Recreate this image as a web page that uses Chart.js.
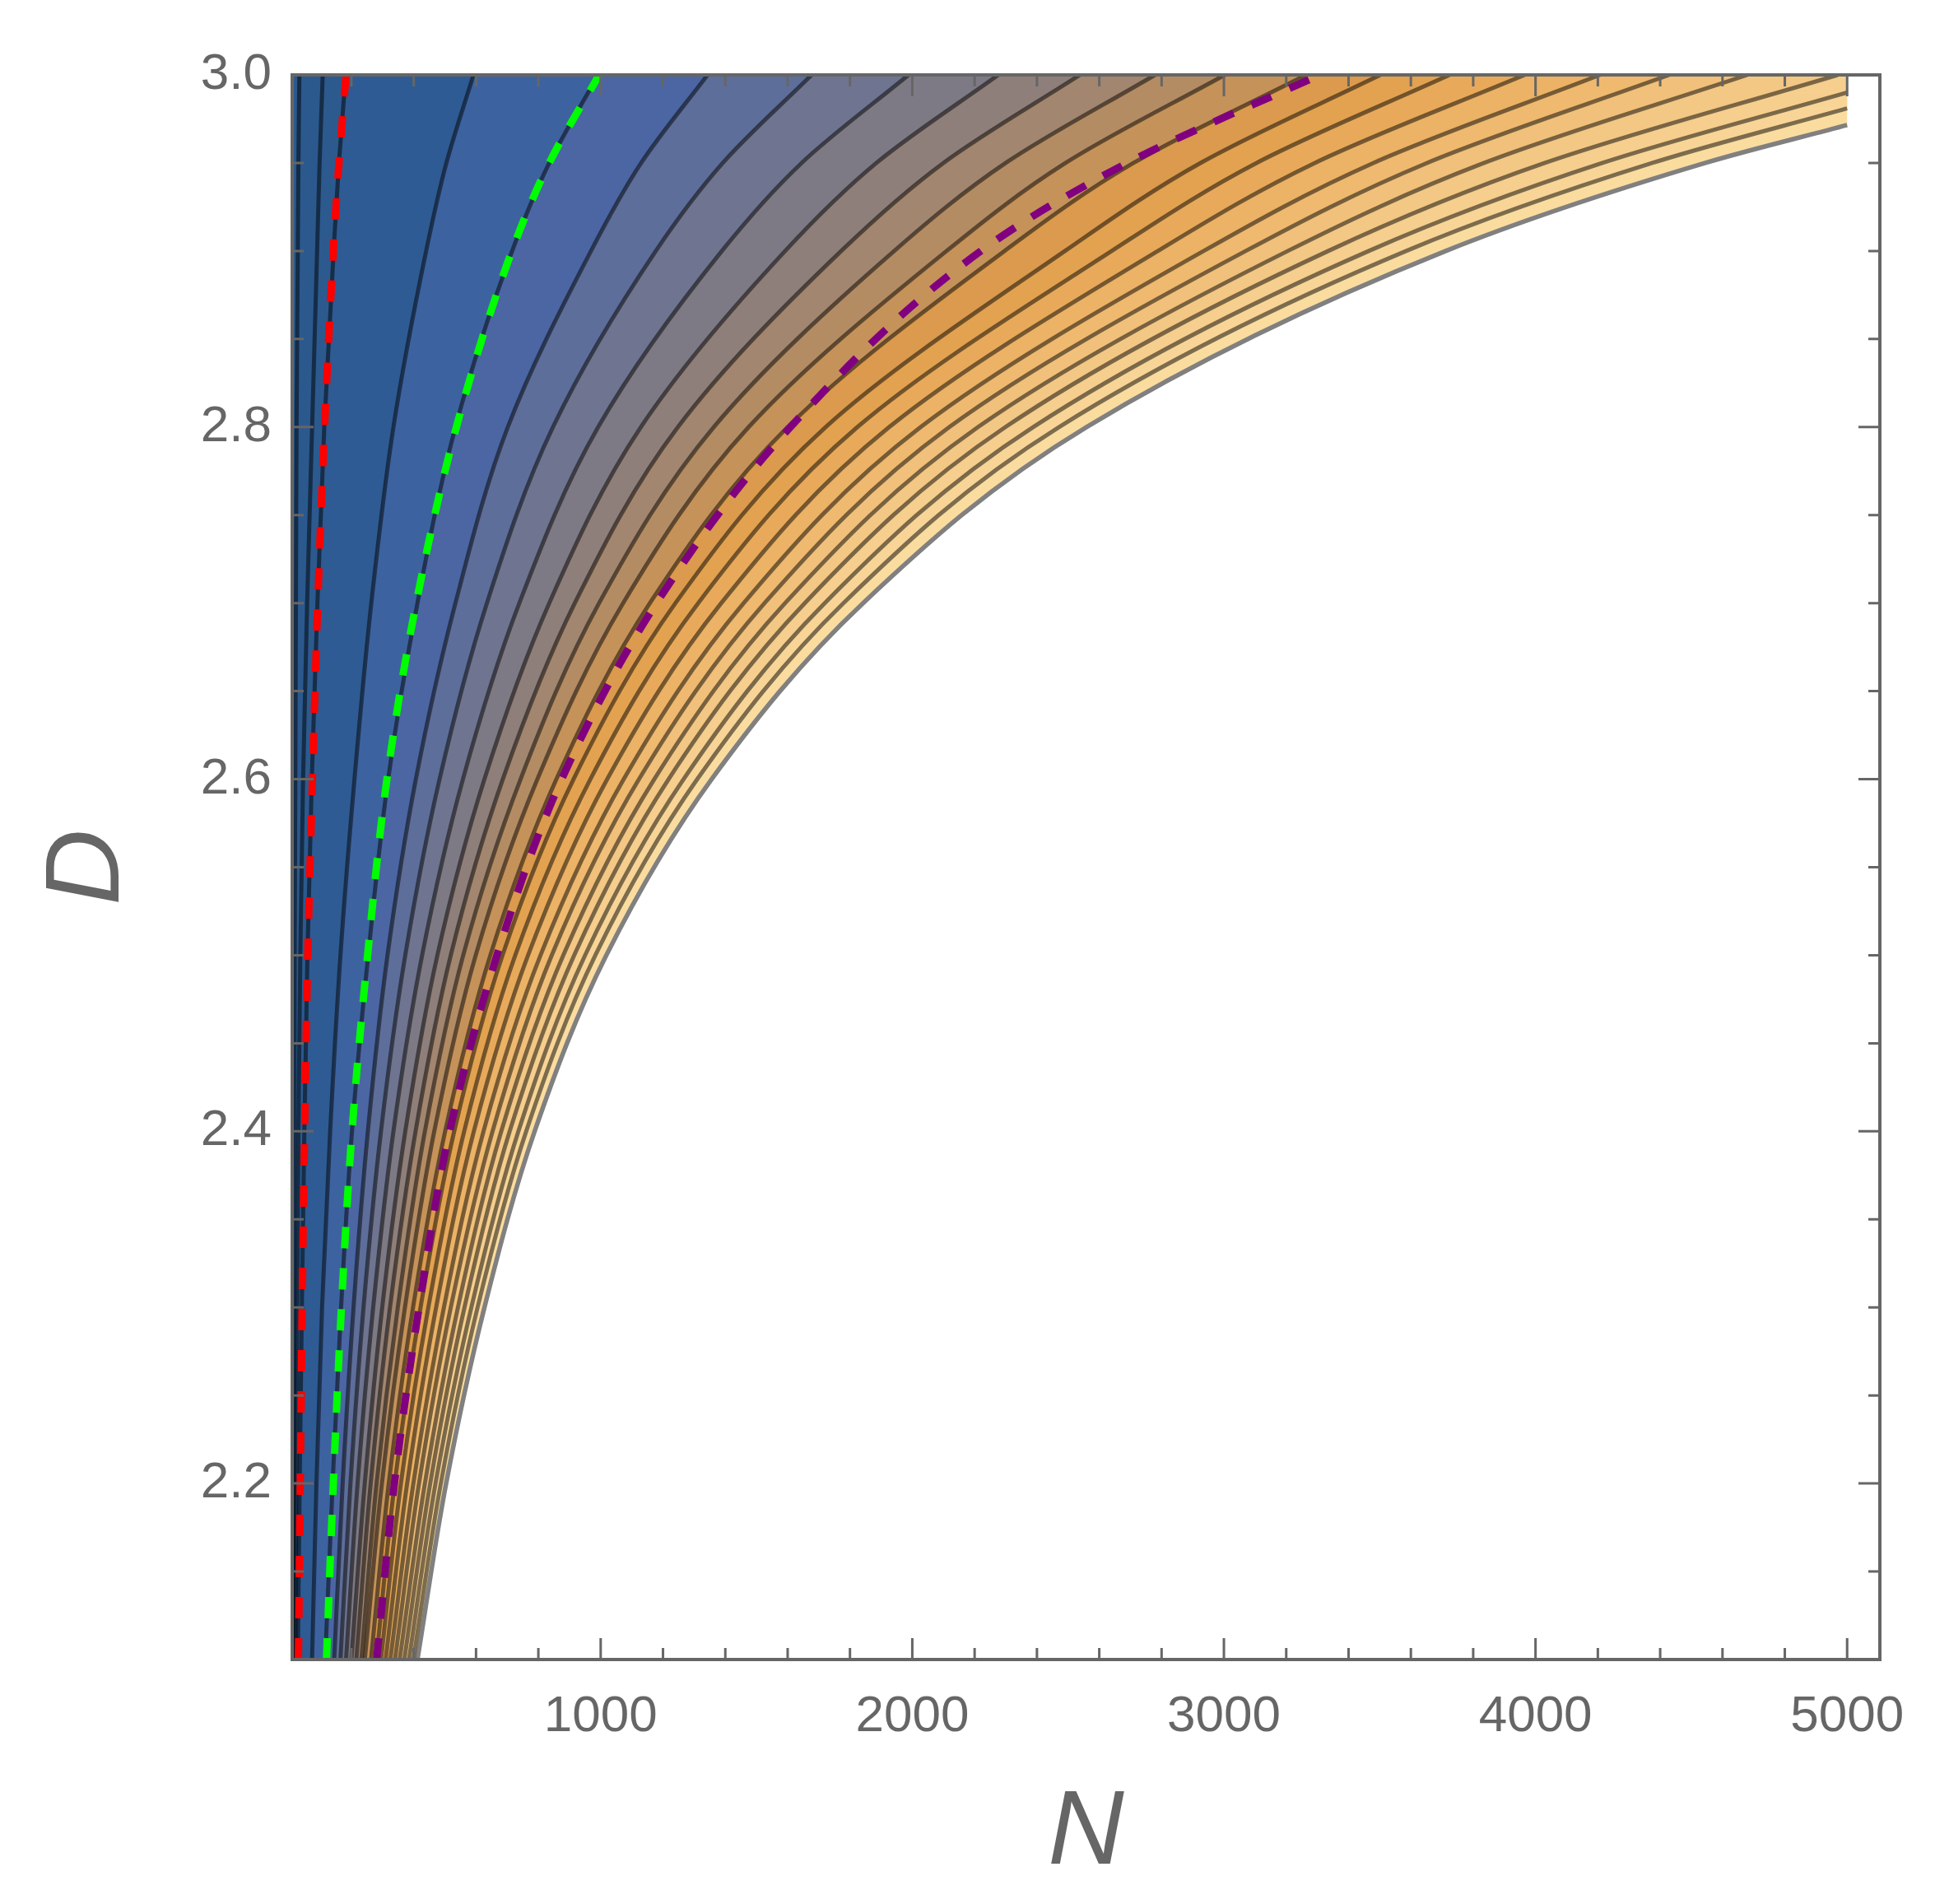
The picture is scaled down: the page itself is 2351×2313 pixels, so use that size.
<!DOCTYPE html>
<html>
<head>
<meta charset="utf-8">
<script src="https://cdn.jsdelivr.net/npm/chart.js@4.4.0/dist/chart.umd.min.js"></script>
<style>
  html, body { margin: 0; padding: 0; background: #fff; }
  canvas { display: block; }
</style>
</head>
<body>
<canvas id="plot" width="2351" height="2313"></canvas>
<script>
/* ==========================
   values
   ========================== */
// D levels where every contour was read
const dLevels = [2.1, 2.2, 2.3, 2.4, 2.5, 2.6, 2.7, 2.8, 2.9, 2.95, 3.0];
// last contours leave through the right side (N = 5000)
const dEdge20 = [2.1, 2.2, 2.3, 2.4, 2.5, 2.6, 2.7, 2.8, 2.9, 2.95, 2.990];
const dEdge21 = [2.1, 2.2, 2.3, 2.4, 2.5, 2.6, 2.7, 2.8, 2.9, 2.95, 2.981];
const dEdgeB  = [2.1, 2.2, 2.3, 2.4, 2.5, 2.6, 2.7, 2.8, 2.9, 2.95, 2.9715];

// N of each contour line, left to right
const c00 = [14, 15, 16, 17, 18, 20, 22, 24, 28, 30, 33];
const c01 = [20, 23, 26, 30, 36, 45, 58, 74, 90, 98, 108];
const c02 = [28, 34, 41, 49, 59, 73, 91, 113, 143, 160, 182];
const c03 = [74, 88, 106, 132, 165, 210, 264, 335, 440, 505, 592];
const c04 = [116, 140, 167, 202, 254, 318, 412, 534, 716, 835, 992];
const c05 = [145, 172, 207, 253, 316, 407, 534, 702, 969, 1130, 1343];
const c06 = [165, 197, 239, 295, 373, 483, 635, 847, 1177, 1392, 1677];
const c07 = [183, 220, 270, 335, 427, 558, 739, 992, 1389, 1645, 1988];
const c08 = [200, 243, 299, 373, 476, 627, 835, 1129, 1592, 1885, 2276];
const c09 = [216, 262, 324, 406, 519, 686, 917, 1248, 1772, 2100, 2538];
const c10 = [232, 281, 349, 436, 559, 743, 995, 1363, 1942, 2300, 2779];
const c11 = [243, 298, 372, 466, 599, 797, 1072, 1475, 2110, 2492, 3003];
const c12 = [263, 320, 398, 501, 646, 858, 1158, 1600, 2296, 2710, 3264];
const c13 = [280, 339, 422, 530, 685, 913, 1240, 1722, 2490, 2925, 3502];
const c14 = [295, 359, 447, 562, 726, 967, 1313, 1824, 2640, 3105, 3724];
const c15 = [310, 379, 472, 593, 767, 1021, 1387, 1926, 2788, 3292, 3965];
const c16 = [325, 399, 497, 624, 807, 1074, 1459, 2027, 2935, 3480, 4207];
const c17 = [340, 417, 519, 653, 843, 1123, 1526, 2119, 3070, 3652, 4429];
const c18 = [355, 436, 542, 681, 880, 1172, 1592, 2211, 3205, 3835, 4680];
const c19 = [370, 453, 563, 708, 915, 1218, 1655, 2299, 3335, 4030, 4970];
const c20 = [385, 470, 585, 736, 950, 1266, 1719, 2388, 3465, 4215, 5000];
const c21 = [399, 487, 605, 761, 983, 1310, 1779, 2471, 3585, 4375, 5000];
const cB  = [412, 504, 627, 788, 1018, 1356, 1842, 2559, 3712, 4545, 5000]; // outer edge

// dashed curves
const redN    = [30, 36, 42, 50, 60, 75, 92, 114, 142, 160, 183];
const greenN  = [120, 142, 168, 202, 252, 314, 408, 537, 715, 835, 995];
const purpleN = [281, 338, 417, 515, 667, 875, 1179, 1609, 2220, 2690, 3307];

// axes
const xMajorTicks = [1000, 2000, 3000, 4000, 5000];
const xMinorTicks = [200, 400, 600, 800, 1200, 1400, 1600, 1800, 2200, 2400, 2600, 2800,
                     3200, 3400, 3600, 3800, 4200, 4400, 4600, 4800];
const yMajorTicks = [2.2, 2.4, 2.6, 2.8, 3.0];
const yMinorTicks = [2.15, 2.25, 2.3, 2.35, 2.45, 2.5, 2.55, 2.65, 2.7, 2.75, 2.85, 2.9, 2.95];

/* ==========================
   styles
   ========================== */
// colour of the band just left of each contour
const bandColors = [
  '#2b598d', '#2b598e', '#2c5a8f', '#2e5b93', '#3c63a0', '#4b66a3', '#5e6e9a', '#6f7590',
  '#7e7a85', '#8f7f7a', '#a2866f', '#b48c64', '#c5925a', '#db9a4d', '#e3a250', '#e8aa5a',
  '#ecb265', '#efb96f', '#f1c07a', '#f3c784', '#f6ce8d', '#f8d596', '#fbdc9f'
];
const axisColor = '#666666';
const fontFamily = '"Liberation Sans", Arial, sans-serif';

const contours = [
  [c00, dLevels], [c01, dLevels], [c02, dLevels], [c03, dLevels], [c04, dLevels],
  [c05, dLevels], [c06, dLevels], [c07, dLevels], [c08, dLevels], [c09, dLevels],
  [c10, dLevels], [c11, dLevels], [c12, dLevels], [c13, dLevels], [c14, dLevels],
  [c15, dLevels], [c16, dLevels], [c17, dLevels], [c18, dLevels], [c19, dLevels],
  [c20, dEdge20], [c21, dEdge21], [cB, dEdgeB]
];
const xMin = 10, xMax = 5105, yMin = 2.1, yMax = 3.0;

const toPoints = (ns, ds) => ns.map((n, i) => ({ x: n, y: ds[i] }));

/* ==========================
   datasets
   ========================== */
const dashed = (ns, color) => ({
  data: toPoints(ns, dLevels),
  borderColor: color,
  borderWidth: 9,
  borderDash: [26, 24],
  borderCapStyle: 'butt',
  fill: false
});

const lineSets = contours.map(([ns, ds], i) => ({
  data: toPoints(ns, ds),
  borderColor: i === contours.length - 1 ? '#808080' : 'rgba(0,0,0,0.5)',
  borderWidth: i === contours.length - 1 ? 5.5 : 5,
  fill: false
}));

// the bands: every contour filled to the left edge, outer ones drawn first.
// a contour that stops at N = 5000 gets a straight cap up to the top edge.
const fillSets = [];
contours.forEach(([ns, ds], i) => {
  fillSets.push({
    data: toPoints(ns, ds),
    borderWidth: 0,
    backgroundColor: bandColors[i],
    fill: { value: xMin }
  });
  const lastN = ns[ns.length - 1], lastD = ds[ds.length - 1];
  if (lastD < yMax) {
    fillSets.push({
      data: [{ x: lastN, y: lastD }, { x: lastN, y: yMax }],
      borderWidth: 0,
      backgroundColor: bandColors[i],
      fill: { value: xMin }
    });
  }
});

const datasets = [
  dashed(redN, '#ff0000'),
  dashed(greenN, '#00ff00'),
  dashed(purpleN, '#800080'),
  ...lineSets,
  ...fillSets
];

/* ==========================
   frame and inward ticks
   ========================== */
const frameTicks = {
  id: 'frameTicks',
  afterDraw(chart) {
    const { ctx, chartArea: a, scales: { x, y } } = chart;
    ctx.save();
    ctx.strokeStyle = axisColor;
    ctx.lineWidth = 3;
    ctx.beginPath();
    const vert = (v, len) => {
      const px = x.getPixelForValue(v);
      ctx.moveTo(px, a.bottom); ctx.lineTo(px, a.bottom - len);
      ctx.moveTo(px, a.top); ctx.lineTo(px, a.top + len);
    };
    const horiz = (v, len) => {
      const py = y.getPixelForValue(v);
      ctx.moveTo(a.left, py); ctx.lineTo(a.left + len, py);
      ctx.moveTo(a.right, py); ctx.lineTo(a.right - len, py);
    };
    xMajorTicks.forEach(v => vert(v, 26));
    xMinorTicks.forEach(v => vert(v, 14));
    yMajorTicks.forEach(v => horiz(v, 26));
    yMinorTicks.forEach(v => horiz(v, 14));
    ctx.stroke();
    ctx.lineWidth = 4;
    ctx.strokeRect(a.left, a.top, a.right - a.left, a.bottom - a.top);
    ctx.restore();
  }
};

new Chart(document.getElementById('plot'), {
  type: 'line',
  data: { datasets },
  options: {
    indexAxis: 'y',
    responsive: false,
    animation: false,
    devicePixelRatio: 1,
    layout: { padding: { top: 91, right: 67, bottom: 0, left: 0 } },
    plugins: { legend: { display: false }, tooltip: { enabled: false } },
    elements: {
      point: { radius: 0, hoverRadius: 0 },
      line: { cubicInterpolationMode: 'monotone' }
    },
    scales: {
      x: {
        type: 'linear', position: 'bottom', min: xMin, max: xMax,
        afterBuildTicks: s => { s.ticks = xMajorTicks.map(v => ({ value: v })); },
        afterFit: s => { s.height = 297; },
        grid: { display: false, drawTicks: false },
        border: { display: false },
        ticks: {
          autoSkip: false, maxRotation: 0, padding: 33, color: axisColor,
          font: { family: fontFamily, size: 62 },
          callback: v => String(v)
        },
        title: {
          display: true, text: 'N', color: axisColor,
          font: { family: fontFamily, size: 128, style: 'italic' },
          padding: { top: 0, bottom: 8 }
        }
      },
      y: {
        type: 'linear', position: 'left', min: yMin, max: yMax,
        afterBuildTicks: s => { s.ticks = yMajorTicks.map(v => ({ value: v })); },
        afterFit: s => { s.width = 355; },
        grid: { display: false, drawTicks: false },
        border: { display: false },
        ticks: {
          autoSkip: false, padding: 25, color: axisColor,
          font: { family: fontFamily, size: 62 },
          callback: v => Number(v).toFixed(1)
        },
        title: {
          display: true, text: 'D', color: axisColor,
          font: { family: fontFamily, size: 128, style: 'italic' },
          padding: { top: 32, bottom: 0 }
        }
      }
    }
  },
  plugins: [frameTicks]
});
</script>
</body>
</html>
